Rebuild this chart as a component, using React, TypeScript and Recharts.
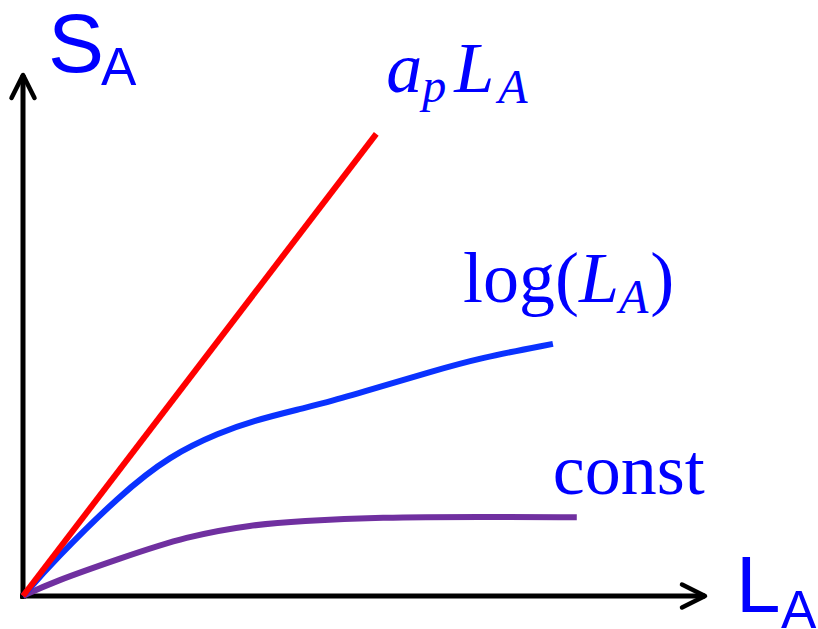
import React from "react";
import { LineChart, Line, XAxis, YAxis, ReferenceLine } from "recharts";

// growth curves of S_A against L_A (arbitrary units, 0–100 on both axes)
const linearX = [0, 51.8];
const linearY = [0, 88.7];

const logX = [0, 4.4, 14.2, 21.6, 28.9, 33.7, 40.6, 45.0, 52.3, 59.7, 67.0, 77.7];
const logY = [0, 6.6, 19.4, 27.0, 31.4, 33.6, 35.9, 37.3, 40.1, 43.0, 45.7, 48.4];

const constX = [0, 4.4, 14.2, 24.0, 33.7, 40.6, 52.3, 67.0, 81.2];
const constY = [0, 2.7, 7.2, 11.5, 13.7, 14.4, 15.1, 15.2, 15.1];

const axisMax = 100;

const zip = (xs: number[], ys: number[]) => xs.map((x, i) => ({ x, y: ys[i] }));

const linearData = zip(linearX, linearY);
const logData = zip(logX, logY);
const constData = zip(constX, constY);

const LABEL_BLUE = "#0000ff";
const SERIF = "'Liberation Serif', 'Times New Roman', serif";
const SANS = "'Liberation Sans', Arial, sans-serif";

// axis line with an open chevron at the far end
function AxisArrow(props: any) {
  const { x1, y1, x2, y2 } = props;
  const len = Math.hypot(x2 - x1, y2 - y1) || 1;
  const ux = (x2 - x1) / len;
  const uy = (y2 - y1) / len;
  const back = 23;
  const side = 11.5;
  const ax = x2 - ux * back;
  const ay = y2 - uy * back;
  return (
    <g stroke="#000" fill="none" strokeLinecap="round" strokeLinejoin="round">
      <line x1={x1 - ux * 3} y1={y1 - uy * 3} x2={x2} y2={y2} strokeWidth={5} strokeLinecap="butt" />
      <polyline
        points={`${ax - uy * side},${ay + ux * side} ${x2},${y2} ${ax + uy * side},${ay - ux * side}`}
        strokeWidth={4.5}
      />
    </g>
  );
}

// renders a label only next to the final point of a series
const endLabel =
  (count: number, dx: number, dy: number, body: React.ReactNode) =>
  (p: any) => {
    if (p.index !== count - 1) return <g key={p.index} />;
    return (
      <text
        key={p.index}
        x={p.x + dx}
        y={p.y + dy}
        fill={LABEL_BLUE}
        fontFamily={SERIF}
        fontSize={72}
      >
        {body}
      </text>
    );
  };

export default function App() {
  return (
    <div style={{ position: "fixed", left: 0, top: 0, width: 818, height: 629, background: "#fff" }}>
      <LineChart
        width={818}
        height={629}
        margin={{ top: 75, right: 113, bottom: 33, left: 23 }}
      >
        <XAxis type="number" dataKey="x" domain={[0, axisMax]} hide />
        <YAxis type="number" dataKey="y" domain={[0, axisMax]} hide />

        <ReferenceLine
          segment={[{ x: 0, y: 0 }, { x: axisMax, y: 0 }]}
          ifOverflow="visible"
          shape={AxisArrow}
        />
        <ReferenceLine
          segment={[{ x: 0, y: 0 }, { x: 0, y: axisMax }]}
          ifOverflow="visible"
          shape={AxisArrow}
        />

        <Line
          data={constData}
          dataKey="y"
          type="basis"
          stroke="#7030a0"
          strokeWidth={6}
          dot={false}
          activeDot={false}
          isAnimationActive={false}
          label={endLabel(constData.length, -24, -23, "const")}
        />
        <Line
          data={logData}
          dataKey="y"
          type="basis"
          stroke="#0a32ff"
          strokeWidth={6}
          dot={false}
          activeDot={false}
          isAnimationActive={false}
          label={endLabel(
            logData.length,
            -90,
            -42,
            <>
              <tspan>log(</tspan>
              <tspan fontStyle="italic">L</tspan>
              <tspan fontStyle="italic" fontSize={48} dy={11}>A</tspan>
              <tspan dy={-11} dx={2}>)</tspan>
            </>
          )}
        />
        <Line
          data={linearData}
          dataKey="y"
          type="linear"
          stroke="#ff0000"
          strokeWidth={6}
          dot={false}
          activeDot={false}
          isAnimationActive={false}
          label={endLabel(
            linearData.length,
            10,
            -42,
            <>
              <tspan fontStyle="italic">a</tspan>
              <tspan fontStyle="italic" fontSize={48} dy={10}>p</tspan>
              <tspan fontStyle="italic" dy={-10} dx={8}>L</tspan>
              <tspan fontStyle="italic" fontSize={48} dy={11} dx={4}>A</tspan>
            </>
          )}
        />

        <text fill={LABEL_BLUE} fontFamily={SANS}>
          <tspan x={48} y={72} fontSize={84}>S</tspan>
          <tspan x={101} y={85} fontSize={53}>A</tspan>
        </text>
        <text fill={LABEL_BLUE} fontFamily={SANS}>
          <tspan x={736} y={612} fontSize={80}>L</tspan>
          <tspan x={781} y={628} fontSize={53}>A</tspan>
        </text>
      </LineChart>
    </div>
  );
}
